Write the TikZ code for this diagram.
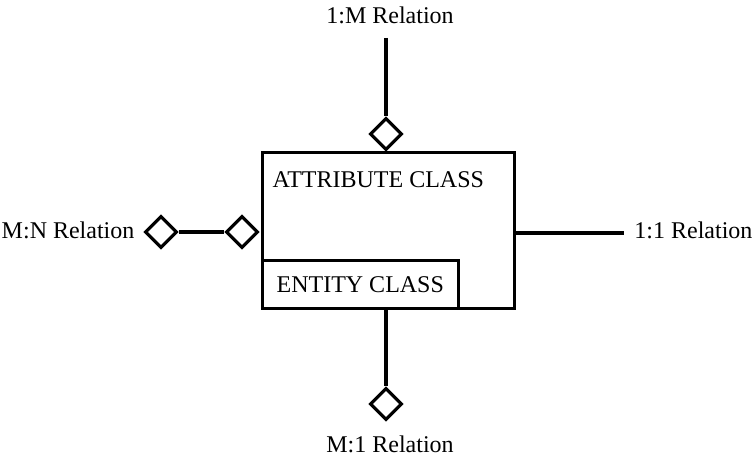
\documentclass[tikz,border=0pt]{standalone}
\usepackage{fontspec}
\setmainfont{Liberation Serif}
\usetikzlibrary{positioning,shapes.geometric}

\begin{document}
\begin{tikzpicture}[x=0.75pt, y=-0.75pt, line width=2.4pt,
  lbl/.style={font=\fontsize{18}{21}\selectfont, inner sep=0pt},
  box/.style={draw, inner sep=0pt},
  dia/.style={draw, diamond, minimum width=24pt, minimum height=24pt, inner sep=0pt, fill=white}]
\useasboundingbox (0,0) rectangle (756,456);
% class boxes
\node (attr) [box, anchor=north west, minimum width=189pt, minimum height=117pt] at (261,151) {};
\node (ent) [box, anchor=south west, minimum width=147pt, minimum height=36pt] at (attr.south west) {};
\path (271,187) node (attrtxt) [lbl, anchor=base west] {ATTRIBUTE CLASS};
\path (275,292) node (enttxt) [lbl, anchor=base west] {ENTITY CLASS};
% 1:M
\path (390,24) node (onem) [lbl, anchor=base] {1:M Relation};
\coordinate (onemend) at (386,38);
\node (onemdia) [dia] at (386,134) {};
\draw (onemend) -- (onemdia.north);
% M:N
\path (136,238) node (mn) [lbl, anchor=base east] {M:N Relation};
\node (mndiaA) [dia] at (161,232) {};
\node (mndiaB) [dia] at (242,232) {};
\draw (mndiaA.east) -- (mndiaB.west);
% 1:1
\path (754,238) node (oneone) [lbl, anchor=base east] {1:1 Relation};
\coordinate (oneonestart) at (513,233);
\coordinate (oneoneend) at (624,233);
\draw (oneonestart) -- (oneoneend);
% M:1
\coordinate (monestart) at (386,307);
\node (monedia) [dia] at (386,404) {};
\path (390,452) node (mone) [lbl, anchor=base] {M:1 Relation};
\draw (monestart) -- (monedia.north);
\end{tikzpicture}
\end{document}
